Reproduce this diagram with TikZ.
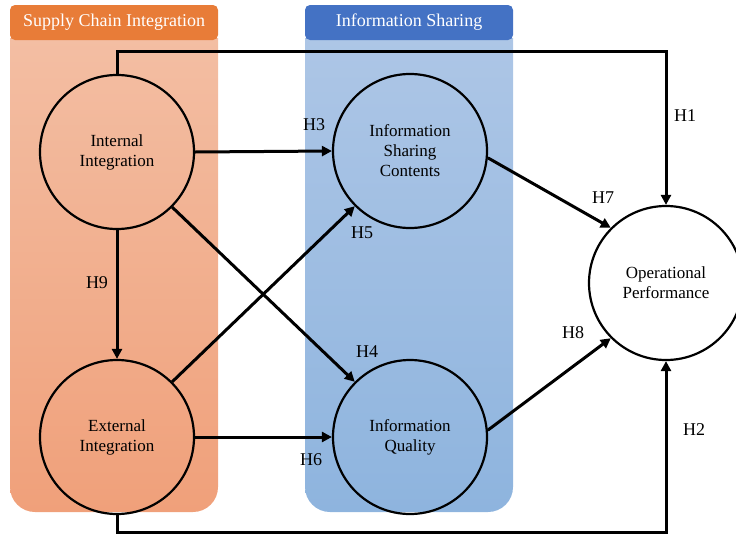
\documentclass[tikz,border=0pt]{standalone}
\usepackage{fontspec}
\setmainfont{Liberation Serif}
\usetikzlibrary{arrows.meta}
\definecolor{orhead}{RGB}{232,124,56}
\definecolor{ortop}{RGB}{243,190,163}
\definecolor{orbot}{RGB}{240,160,122}
\definecolor{blhead}{RGB}{68,114,196}
\definecolor{bltop}{RGB}{173,198,230}
\definecolor{blbot}{RGB}{142,180,222}
\tikzset{
  construct/.style={circle,draw,line width=2.2pt,minimum size=154pt,inner sep=0pt,
    align=center,font=\fontsize{17}{20}\selectfont},
  header/.style={rounded corners=5pt,minimum width=208pt,minimum height=35pt,inner sep=0pt,
    text=white,font=\fontsize{18}{21}\selectfont},
  link/.style={line width=3pt,-{Triangle[length=10pt,width=10pt]}},
  hyp/.style={font=\fontsize{18}{21}\selectfont,inner sep=0pt}
}
\begin{document}
\begin{tikzpicture}[x=1pt,y=-1pt]
\useasboundingbox (0,0) rectangle (736,533);
% panels
\shade[top color=ortop,bottom color=orbot] (10,38) [sharp corners] -- (10,300) [rounded corners=25pt] -- (10,512) -- (218,512) -- (218,300) [sharp corners] -- (218,38) -- cycle;
\shade[top color=bltop,bottom color=blbot] (305,38) [sharp corners] -- (305,300) [rounded corners=25pt] -- (305,512) -- (513,512) -- (513,300) [sharp corners] -- (513,38) -- cycle;
\node[header,fill=orhead] (hsci) at (114,22.5) {Supply Chain Integration};
\node[header,fill=blhead] (his) at (409,22.5) {Information Sharing};
% constructs
\node[construct] (ii) at (117,152) {Internal\\Integration};
\node[construct] (ei) at (117,437) {External\\Integration};
\node[construct] (isc) at (410,151) {Information\\Sharing\\Contents};
\node[construct] (iq) at (410,437) {Information\\Quality};
\node[construct,fill=white] (op) at (666,283) {Operational\\Performance};
% connectors
\draw[link] (ii.north) -- ++(0,-22) -| (op.north);
\draw[link] (ei.south) -- ++(0,17) -| (op.south);
\draw[link] (ii.east) -- (isc.west);
\draw[link] (ii.-45) -- (iq.135);
\draw[link] (ei.45) -- (isc.-135);
\draw[link] (ei.east) -- (iq.west);
\draw[link] (isc.-5) -- (op.135);
\draw[link] (iq.5) -- (op.225);
\draw[link] (ii.south) -- (ei.north);
% labels
\node[hyp] (h1) at (685,116) {H1};
\node[hyp] (h2) at (694,430) {H2};
\node[hyp] (h3) at (314,125) {H3};
\node[hyp] (h4) at (367,352) {H4};
\node[hyp] (h5) at (362,233) {H5};
\node[hyp] (h6) at (311,460) {H6};
\node[hyp] (h7) at (603,198) {H7};
\node[hyp] (h8) at (573,333) {H8};
\node[hyp] (h9) at (97,283) {H9};
\end{tikzpicture}
\end{document}
